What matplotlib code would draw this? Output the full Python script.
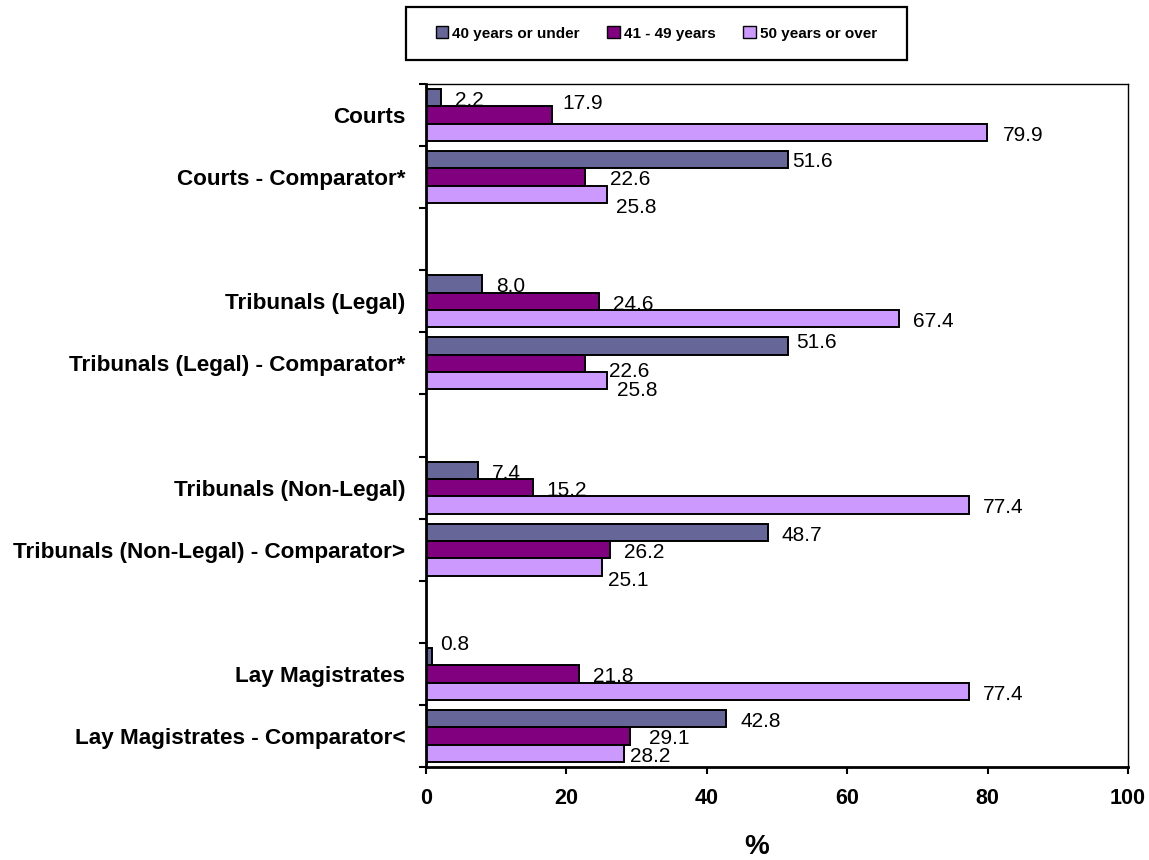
"""Age profile of judicial office holders vs comparator pools (horizontal grouped bars)."""
import numpy as np
import matplotlib
matplotlib.use("Agg")
import matplotlib.pyplot as plt
from matplotlib.patches import Patch, Rectangle

plt.rcParams["font.family"] = ["Liberation Sans", "DejaVu Sans"]

categories = [
    "Courts",
    "Courts - Comparator*",
    "Tribunals (Legal)",
    "Tribunals (Legal) - Comparator*",
    "Tribunals (Non-Legal)",
    "Tribunals (Non-Legal) - Comparator>",
    "Lay Magistrates",
    "Lay Magistrates - Comparator<",
]
series_names = ["40 years or under", "41 - 49 years", "50 years or over"]
under_40 = [2.2, 51.6, 8.0, 51.6, 7.4, 48.7, 0.8, 42.8]
age_41_49 = [17.9, 22.6, 24.6, 22.6, 15.2, 26.2, 21.8, 29.1]
over_50 = [79.9, 25.8, 67.4, 25.8, 77.4, 25.1, 77.4, 28.2]

colors = ["#666699", "#800080", "#CC99FF"]

# extra shifts (pixels, +y = down) for labels that would otherwise collide
label_nudge = {
    (0, 1): (-3, -15), (0, 2): (2, 0),
    (1, 0): (-10, -1), (1, 1): (11, -1), (1, 2): (-5, 10),
    (3, 0): (-6, -7), (3, 1): (10, 5), (3, 2): (-4, 7),
    (5, 2): (-8, 10),
    (6, 0): (-5, -15),
    (7, 1): (5, 0), (7, 2): (-8, 0),
}

W, H = 1149, 860
fig = plt.figure(figsize=(W / 100, H / 100), dpi=100)
ax = fig.add_axes([426 / W, 1 - 767 / H, 702 / W, 683 / H])

# two categories per block, then an empty slot
slots = np.array([i + i // 2 for i in range(len(categories))])
centers = slots + 0.5
bar_h = 0.28
px = 72 / 100

for s, (vals, col) in enumerate(zip([under_40, age_41_49, over_50], colors)):
    ys = centers + (s - 1) * bar_h
    ax.barh(ys, vals, height=bar_h, color=col, edgecolor="black", linewidth=1.4)
    for i, (v, y) in enumerate(zip(vals, ys)):
        ndx, ndy = label_nudge.get((i, s), (0, 0))
        ax.annotate(f"{v:.1f}", xy=(v, y), xytext=((14 + ndx) * px, -(3 + ndy) * px),
                    textcoords="offset points", ha="left", va="center", fontsize=15)

ax.set_xlim(0, 100)
ax.set_ylim(11, 0)
ax.set_xticks(range(0, 101, 20))
ax.set_yticks(range(12))
ax.set_yticklabels([])
ax.set_yticks(centers, labels=categories, minor=True)
ax.tick_params(axis="y", which="minor", length=0, pad=15)
ax.tick_params(axis="y", which="major", length=5, width=1.5, direction="out")
ax.tick_params(axis="x", length=5, width=1.5, direction="out", pad=10)
for lbl in ax.get_yticklabels(minor=True):
    lbl.set_fontsize(16.2)
    lbl.set_fontweight("bold")
for lbl in ax.get_xticklabels():
    lbl.set_fontsize(15.5)
    lbl.set_fontweight("bold")

for side in ["left", "bottom"]:
    ax.spines[side].set_linewidth(2.0)
for side in ["top", "right"]:
    ax.spines[side].set_linewidth(1.0)

ax.set_xlabel("%", fontsize=20, fontweight="bold")
ax.xaxis.set_label_coords(0.471, -0.117)
ax.xaxis.label.set_va("center")

# legend frame drawn separately so its padding can be set freely
fig.patches.append(Rectangle((406 / W, 1 - 60 / H), 501 / W, 53 / H,
                             transform=fig.transFigure, facecolor="white",
                             edgecolor="black", linewidth=1.6))
handles = [Patch(facecolor=c, edgecolor="black", linewidth=1.0) for c in colors]
fig.legend(handles, series_names, loc="center", ncol=3, frameon=False,
           bbox_to_anchor=(656.5 / W, 1 - 33.5 / H),
           prop={"size": 11, "weight": "bold"},
           handlelength=0.8, handleheight=0.8, handletextpad=0.3,
           columnspacing=1.8)

fig.savefig("out.png", dpi=100, facecolor="white")
